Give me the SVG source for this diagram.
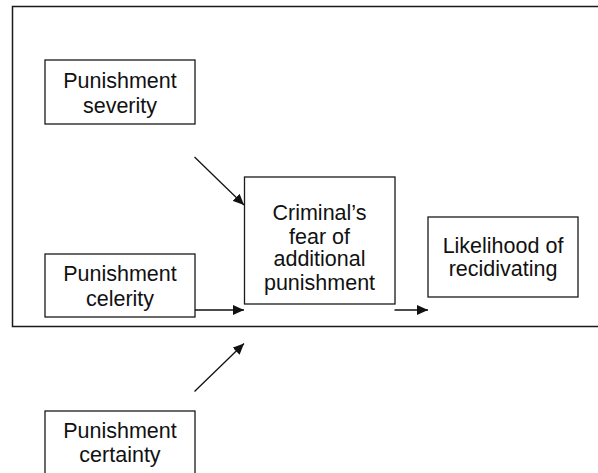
<svg xmlns="http://www.w3.org/2000/svg" width="598" height="473" viewBox="0 0 598 473">
  <style>
    .box { fill: #fff; stroke: #1a1a1a; stroke-width: 1.3; }
    .frame { fill: none; stroke: #1a1a1a; stroke-width: 1.5; }
    .lbl { font-family: "Liberation Sans", Arial, sans-serif; font-size: 21.5px; fill: #111; text-anchor: middle; }
    .edge { stroke: #111; stroke-width: 1.3; fill: none; marker-end: url(#arrow); }
  </style>
  <defs>
    <marker id="arrow" viewBox="0 0 11 10" refX="11" refY="5" markerWidth="11" markerHeight="10" markerUnits="userSpaceOnUse" orient="auto">
      <path d="M0,0 L11,5 L0,10 Z" fill="#111"/>
    </marker>
  </defs>

  <!-- enclosing frame (open on the right) -->
  <path class="frame" d="M598,6.5 H12.5 V326.5 H598"/>

  <g id="severity">
    <rect class="box" x="45" y="60" width="150" height="64"/>
    <text class="lbl" x="120" y="88">Punishment</text>
    <text class="lbl" x="120" y="112.5">severity</text>
  </g>

  <g id="celerity">
    <rect class="box" x="45" y="254" width="150" height="63"/>
    <text class="lbl" x="120" y="281">Punishment</text>
    <text class="lbl" x="120" y="305.5">celerity</text>
  </g>

  <g id="certainty">
    <rect class="box" x="45" y="411" width="150" height="70"/>
    <text class="lbl" x="120" y="438">Punishment</text>
    <text class="lbl" x="120" y="462">certainty</text>
  </g>

  <g id="fear">
    <rect class="box" x="244.5" y="177" width="150.5" height="127"/>
    <text class="lbl" x="319.5" y="220">Criminal’s</text>
    <text class="lbl" x="319.5" y="243.5">fear of</text>
    <text class="lbl" x="319.5" y="266">additional</text>
    <text class="lbl" x="319.5" y="289.5">punishment</text>
  </g>

  <g id="recidivism">
    <rect class="box" x="428" y="217" width="150" height="80"/>
    <text class="lbl" x="503" y="253">Likelihood of</text>
    <text class="lbl" x="503" y="276">recidivating</text>
  </g>

  <g id="connectors">
    <line class="edge" x1="194.5" y1="157" x2="244" y2="205"/>
    <line class="edge" x1="195" y1="310" x2="244" y2="310"/>
    <line class="edge" x1="194.5" y1="391.5" x2="244" y2="343.5"/>
    <line class="edge" x1="394.5" y1="310" x2="428" y2="310"/>
  </g>
</svg>
